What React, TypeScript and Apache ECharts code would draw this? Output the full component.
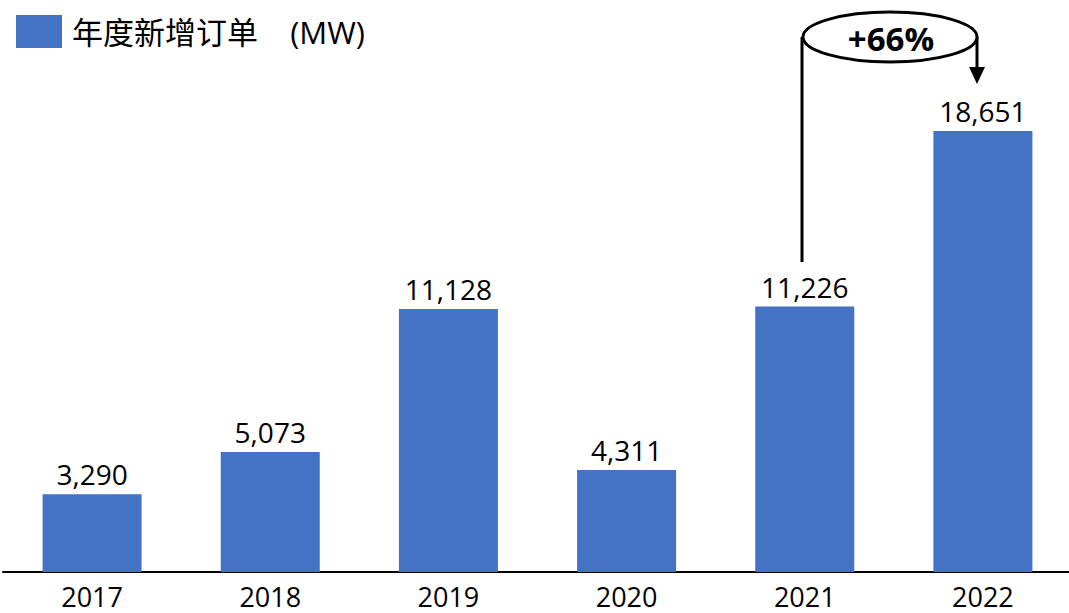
import React, { useEffect, useRef } from "react";
import * as echarts from "echarts";

const categories = ["2017", "2018", "2019", "2020", "2021", "2022"];
const orders = [3290, 5073, 11128, 4311, 11226, 18651];
const seriesName = "年度新增订单\u00a0\u00a0\u00a0\u00a0(MW)";
const growthLabel = "+66%";

export default function App() {
  const ref = useRef<HTMLDivElement>(null);
  useEffect(() => {
    if (!ref.current) return;
    const chart = echarts.init(ref.current, undefined, { renderer: "svg" });
    const font = "'Open Sans', 'Noto Sans CJK SC', sans-serif";
    chart.setOption({
      animation: false,
      backgroundColor: "#ffffff",
      legend: {
        left: 16,
        top: 15,
        padding: 0,
        itemWidth: 46,
        itemHeight: 33,
        icon: "rect",
        textStyle: { fontSize: 31, color: "#000", fontFamily: font, padding: [0, 0, 0, 5] },
        data: [seriesName],
      },
      grid: { left: 3, right: 0, top: 40, bottom: 41, containLabel: false },
      xAxis: {
        type: "category",
        data: categories,
        axisLine: { show: true, lineStyle: { color: "#000", width: 2 } },
        axisTick: { show: false },
        axisLabel: { color: "#000", fontSize: 27, lineHeight: 24, fontFamily: font, margin: 12 },
      },
      yAxis: {
        type: "value",
        min: 0,
        max: 22500,
        show: false,
        splitLine: { show: false },
      },
      series: [
        {
          name: seriesName,
          type: "bar",
          data: orders,
          barWidth: 99,
          itemStyle: { color: "#4472C4" },
          label: {
            show: true,
            position: "top",
            distance: 6,
            color: "#000",
            fontSize: 28,
            fontFamily: font,
            formatter: (p: any) => Number(p.value).toLocaleString("en-US"),
          },
        },
      ],
      graphic: [
        {
          type: "polyline",
          shape: { points: [[802, 37], [802, 262]] },
          style: { stroke: "#000", lineWidth: 3, fill: "none" },
        },
        {
          type: "polyline",
          shape: { points: [[977, 37], [977, 68]] },
          style: { stroke: "#000", lineWidth: 3, fill: "none" },
        },
        {
          type: "polygon",
          shape: { points: [[969, 67], [985, 67], [977, 84]] },
          style: { fill: "#000" },
        },
        {
          type: "ellipse",
          shape: { cx: 890, cy: 37, rx: 87, ry: 25 },
          style: { stroke: "#000", lineWidth: 3, fill: "#fff" },
        },
        {
          type: "text",
          x: 891,
          y: 38,
          style: {
            text: growthLabel,
            fontSize: 33,
            fontWeight: "bold",
            fontFamily: font,
            fill: "#000",
            align: "center",
            verticalAlign: "middle",
          },
        },
      ],
    });
    return () => chart.dispose();
  }, []);
  return (
    <div
      ref={ref}
      style={{ position: "fixed", left: 0, top: 0, width: 1072, height: 613 }}
    />
  );
}
